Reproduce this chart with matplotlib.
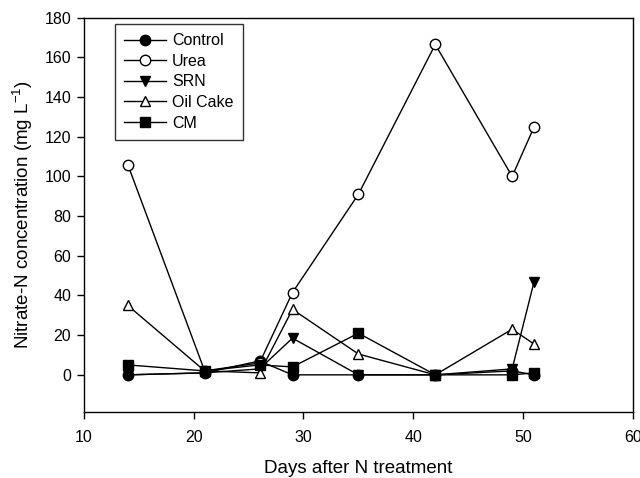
import matplotlib
matplotlib.use("Agg")
import matplotlib.pyplot as plt

plt.rcParams['font.family'] = ['Liberation Sans', 'DejaVu Sans']

days = [14, 21, 26, 29, 35, 42, 49, 51]
control = [0, 1, 7, 0, 0, 0, 2, 0]
urea = [106, 2, 6, 41.5, 91, 166.5, 100, 125]
srn = [0, 1, 3, 18.5, 0, 0, 3, 47]
oil_cake = [35, 2, 1, 33, 10.5, 0, 23, 15.5]
cm = [5, 2, 5, 4, 21, 0, 0, 1]

series = [
    ("Control", control, dict(marker='o', mfc='black')),
    ("Urea", urea, dict(marker='o', mfc='white')),
    ("SRN", srn, dict(marker='v', mfc='black')),
    ("Oil Cake", oil_cake, dict(marker='^', mfc='white')),
    ("CM", cm, dict(marker='s', mfc='black')),
]

fig = plt.figure(figsize=(6.4, 4.78), dpi=100)
ax = fig.add_axes([0.131, 0.139, 0.858, 0.824])

for name, vals, st in series:
    ax.plot(days, vals, color='black', lw=1.0, mec='black', ms=7.5,
            label=name, **st)

ax.set_xlim(10, 60)
ax.set_ylim(-18.5, 180)
ax.set_xticks([10, 20, 30, 40, 50, 60])
ax.set_yticks(range(0, 181, 20))
ax.tick_params(direction='out', length=5, width=1, labelsize=11.5,
               top=False, right=False)
ax.tick_params(axis='x', pad=8)
ax.tick_params(axis='y', pad=4)
for s in ax.spines.values():
    s.set_linewidth(1.0)

ax.set_xlabel("Days after N treatment", fontsize=13.5, labelpad=11)
ax.set_ylabel("Nitrate-N concentration (mg L$^{\\mathregular{-1}}$)",
              fontsize=13.5, labelpad=7)

leg = ax.legend(loc='upper left', bbox_to_anchor=(0.056, 0.985), fontsize=11.5,
                frameon=True, fancybox=False, edgecolor='black',
                handlelength=2.6, borderpad=0.6, labelspacing=0.35,
                handletextpad=0.4, borderaxespad=0)
leg.get_frame().set_linewidth(1.0)

fig.savefig("out.png", dpi=100)
